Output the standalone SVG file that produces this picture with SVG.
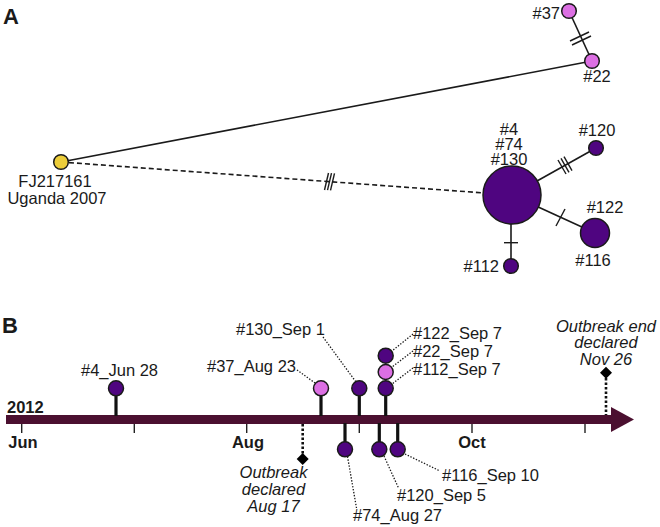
<svg xmlns="http://www.w3.org/2000/svg" width="660" height="527" viewBox="0 0 660 527">
<style>
text{font-family:"Liberation Sans",Arial,sans-serif;fill:#1a1a1a}
.lbl{font-size:16.5px}
.pl{font-size:22px;font-weight:bold}
.bold{font-size:16.5px;font-weight:bold}
.it{font-size:16.5px;font-style:italic}
.dk{fill:#4f0580;stroke:#1a1a1a;stroke-width:1.5}
.pk{fill:#dc6fe3;stroke:#1a1a1a;stroke-width:1.5}
.yl{fill:#eccd3a;stroke:#1a1a1a;stroke-width:1.5}
.ln{stroke:#1a1a1a;stroke-width:1.6;fill:none}
.dash{stroke:#1a1a1a;stroke-width:1.6;fill:none;stroke-dasharray:5 3}
.hatch{stroke:#1a1a1a;stroke-width:1.4;fill:none}
.stem{stroke:#111;stroke-width:3.2;fill:none}
.lead{stroke:#1a1a1a;stroke-width:1.3;fill:none;stroke-dasharray:1.4 1.6}
.vdot{stroke:#111;stroke-width:2.6;fill:none;stroke-dasharray:2.5 2}
.tick{stroke:#222;stroke-width:1.4}
</style>

<text class="pl" x="3" y="24">A</text>
<text class="pl" x="2" y="333">B</text>

<!-- Panel A connectors -->
<g id="connectors-A">
  <line class="ln" x1="61" y1="162" x2="592" y2="61"/>
  <line class="dash" x1="61" y1="162" x2="512" y2="195"/>
  <line class="ln" x1="569" y1="11" x2="592" y2="61"/>
  <line class="ln" x1="512" y1="195" x2="596" y2="148"/>
  <line class="ln" x1="512" y1="195" x2="595" y2="233"/>
  <line class="ln" x1="511" y1="195" x2="511" y2="266"/>
  <g class="hatch">
    <line x1="324.5" y1="190" x2="328.5" y2="173"/>
    <line x1="327.5" y1="190.2" x2="331.5" y2="173.2"/>
    <line x1="330.5" y1="190.4" x2="334.5" y2="173.4"/>
    <line x1="570" y1="41" x2="589" y2="32"/>
    <line x1="572" y1="45" x2="591" y2="36"/>
    <line x1="558" y1="160" x2="566" y2="174"/>
    <line x1="561" y1="158.3" x2="569" y2="172.3"/>
    <line x1="564" y1="156.6" x2="572" y2="170.6"/>
    <line x1="556" y1="226" x2="565" y2="209"/>
    <line x1="504" y1="242.7" x2="518" y2="242.7"/>
  </g>
</g>

<!-- Panel A nodes -->
<g id="node-FJ217161">
  <circle class="yl" cx="61" cy="162" r="7.3"/>
  <text class="lbl" x="55" y="187" text-anchor="middle">FJ217161</text>
  <text class="lbl" x="57" y="204" text-anchor="middle">Uganda 2007</text>
</g>
<g id="node-37">
  <circle class="pk" cx="569" cy="11" r="7.3"/>
  <text class="lbl" x="560" y="18.5" text-anchor="end">#37</text>
</g>
<g id="node-22">
  <circle class="pk" cx="592" cy="61" r="7.3"/>
  <text class="lbl" x="597" y="82" text-anchor="middle">#22</text>
</g>
<g id="node-4-74-130">
  <circle class="dk" cx="512" cy="195" r="29"/>
  <text class="lbl" x="509" y="135" text-anchor="middle">#4</text>
  <text class="lbl" x="509" y="150" text-anchor="middle">#74</text>
  <text class="lbl" x="509" y="165" text-anchor="middle">#130</text>
</g>
<g id="node-120">
  <circle class="dk" cx="596" cy="148" r="7.3"/>
  <text class="lbl" x="597" y="135.5" text-anchor="middle">#120</text>
</g>
<g id="node-122-116">
  <circle class="dk" cx="595" cy="233" r="14.5"/>
  <text class="lbl" x="605" y="212.5" text-anchor="middle">#122</text>
  <text class="lbl" x="593" y="265.5" text-anchor="middle">#116</text>
</g>
<g id="node-112">
  <circle class="dk" cx="511" cy="266" r="7.3"/>
  <text class="lbl" x="499" y="271.5" text-anchor="end">#112</text>
</g>

<!-- Panel B timeline -->
<g id="timeline">
  <rect x="6" y="415" width="607" height="9" fill="#4b1030"/>
  <polygon points="611,407 634,419.5 611,432" fill="#4b1030"/>
  <g class="tick">
    <line x1="21.7" y1="424" x2="21.7" y2="433"/>
    <line x1="134.3" y1="424" x2="134.3" y2="433"/>
    <line x1="246.7" y1="424" x2="246.7" y2="433"/>
    <line x1="359.3" y1="424" x2="359.3" y2="433"/>
    <line x1="472" y1="424" x2="472" y2="433"/>
    <line x1="585" y1="424" x2="585" y2="433"/>
  </g>
  <text class="bold" x="7" y="413">2012</text>
  <text class="bold" x="23" y="448" text-anchor="middle">Jun</text>
  <text class="bold" x="248" y="448" text-anchor="middle">Aug</text>
  <text class="bold" x="472" y="448" text-anchor="middle">Oct</text>
</g>

<!-- Panel B connectors (stems, leaders) -->
<g id="connectors-B">
  <line class="stem" x1="116" y1="395" x2="116" y2="416"/>
  <line class="stem" x1="321" y1="395" x2="321" y2="416"/>
  <line class="stem" x1="359.3" y1="395" x2="359.3" y2="416"/>
  <line class="stem" x1="385.7" y1="395" x2="385.7" y2="416"/>
  <line class="stem" x1="345" y1="423" x2="345" y2="442"/>
  <line class="stem" x1="379.3" y1="423" x2="379.3" y2="442"/>
  <line class="stem" x1="397.7" y1="423" x2="397.7" y2="442"/>
  <line class="lead" x1="297" y1="370" x2="315" y2="383"/>
  <line class="lead" x1="323" y1="337" x2="356" y2="382"/>
  <line class="lead" x1="413" y1="334" x2="392" y2="351"/>
  <line class="lead" x1="413" y1="351" x2="392" y2="367"/>
  <line class="lead" x1="413" y1="368" x2="392" y2="384"/>
  <line class="lead" x1="347.5" y1="456.5" x2="356.5" y2="508"/>
  <line class="lead" x1="384" y1="456" x2="398.5" y2="488"/>
  <line class="lead" x1="405" y1="454" x2="440" y2="471"/>
  <line class="vdot" x1="302.7" y1="424" x2="302.7" y2="454"/>
  <line class="vdot" x1="606" y1="378" x2="606" y2="415"/>
</g>

<!-- Panel B nodes -->
<g id="case-4">
  <circle class="dk" cx="116" cy="388.3" r="7.5"/>
  <text class="lbl" x="119.5" y="376" text-anchor="middle">#4_Jun 28</text>
</g>
<g id="case-37">
  <circle class="pk" cx="321" cy="388.3" r="7.5"/>
  <text class="lbl" x="296" y="371.5" text-anchor="end">#37_Aug 23</text>
</g>
<g id="case-130">
  <circle class="dk" cx="359.3" cy="388.3" r="7.5"/>
  <text class="lbl" x="325" y="335" text-anchor="end">#130_Sep 1</text>
</g>
<g id="case-112">
  <circle class="dk" cx="385.7" cy="388.3" r="7.5"/>
  <text class="lbl" x="413" y="375">#112_Sep 7</text>
</g>
<g id="case-22">
  <circle class="pk" cx="385.7" cy="372" r="7.5"/>
  <text class="lbl" x="413" y="357">#22_Sep 7</text>
</g>
<g id="case-122">
  <circle class="dk" cx="385.7" cy="355.7" r="7.5"/>
  <text class="lbl" x="413" y="339.3">#122_Sep 7</text>
</g>
<g id="case-74">
  <circle class="dk" cx="345" cy="449.3" r="7.5"/>
  <text class="lbl" x="353" y="520.7">#74_Aug 27</text>
</g>
<g id="case-120">
  <circle class="dk" cx="379.3" cy="449.3" r="7.5"/>
  <text class="lbl" x="397" y="500.7">#120_Sep 5</text>
</g>
<g id="case-116">
  <circle class="dk" cx="397.7" cy="449.3" r="7.5"/>
  <text class="lbl" x="442" y="480.7">#116_Sep 10</text>
</g>
<g id="event-outbreak-declared">
  <polygon points="302.7,453 308.7,459 302.7,465 296.7,459" fill="#000"/>
  <text class="it" x="273.5" y="478" text-anchor="middle">Outbreak</text>
  <text class="it" x="273.5" y="495" text-anchor="middle">declared</text>
  <text class="it" x="273.5" y="511.7" text-anchor="middle">Aug 17</text>
</g>
<g id="event-outbreak-end">
  <polygon points="606,366.7 612,372.7 606,378.7 600,372.7" fill="#000"/>
  <text class="it" x="606" y="331.7" text-anchor="middle">Outbreak end</text>
  <text class="it" x="606" y="348" text-anchor="middle">declared</text>
  <text class="it" x="606" y="365" text-anchor="middle">Nov 26</text>
</g>
</svg>
